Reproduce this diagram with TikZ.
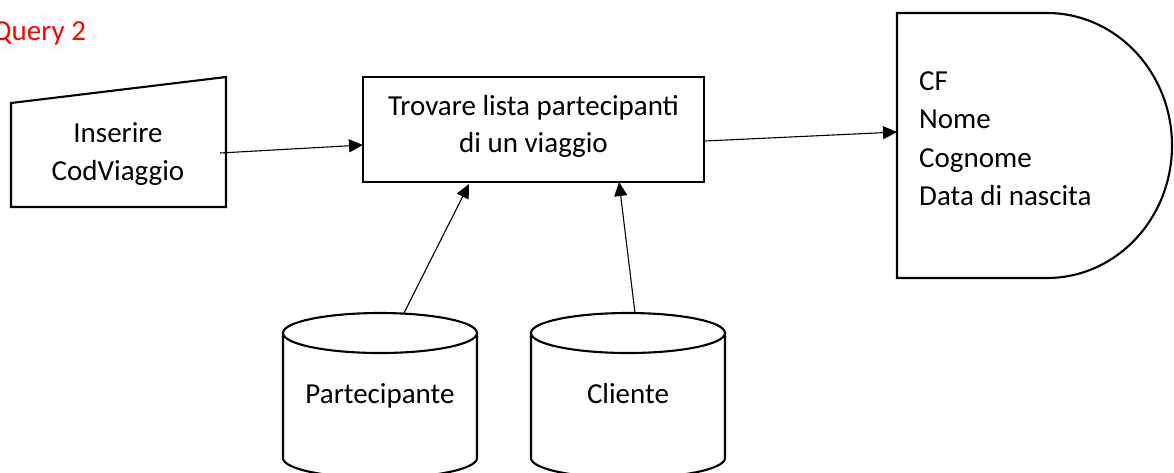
\documentclass[tikz,border=0pt]{standalone}
\usepackage{fontspec}
\setmainfont{Carlito}
\usetikzlibrary{arrows.meta}
\definecolor{qred}{RGB}{255,0,0}
\tikzset{
  shapeline/.style={draw=black, line width=2.1pt, fill=white, line join=miter},
  flow/.style={draw=black, line width=1.1pt, -{Triangle[length=14pt,width=13pt]}},
  txt/.style={font=\fontsize{29}{38}\selectfont, inner sep=0pt, anchor=base},
}
\begin{document}
\begin{tikzpicture}[x=1pt,y=-1pt]
\useasboundingbox (0,0) rectangle (1174,472);
\begin{scope}
\clip (0,0) rectangle (1174,472);
% title
\node[txt, anchor=base west, text=qred] (title) at (-8,40) {Query 2};
% manual input
\draw[shapeline] (11,103) -- (226,77) -- (226,207) -- (11,207) -- cycle;
\node[txt] (in1) at (118,142) {Inserire};
\node[txt] (in2) at (118,180) {CodViaggio};
% process
\draw[shapeline] (363,77) rectangle (704,182);
\node[txt] (p1) at (533.5,115) {Trovare lista partecipanti};
\node[txt] (p2) at (533.5,152) {di un viaggio};
% display
\draw[shapeline] (897,13) -- (1047,13) arc[start angle=90,end angle=-90,x radius=125pt,y radius=132.5pt] -- (897,278) -- cycle;
\node[txt, anchor=base west] (o1) at (919,90) {CF};
\node[txt, anchor=base west] (o2) at (919,128) {Nome};
\node[txt, anchor=base west] (o3) at (919,167) {Cognome};
\node[txt, anchor=base west] (o4) at (919,205) {Data di nascita};
% cylinders
\draw[shapeline] (283,333) -- (283,458) arc[start angle=180,end angle=360,x radius=97pt,y radius=20pt] -- (477,333);
\draw[shapeline] (380,333) ellipse[x radius=97pt,y radius=20pt];
\node[txt] (db1) at (380,403) {Partecipante};
\draw[shapeline] (531,333) -- (531,458) arc[start angle=180,end angle=360,x radius=97pt,y radius=20pt] -- (725,333);
\draw[shapeline] (628,333) ellipse[x radius=97pt,y radius=20pt];
\node[txt] (db2) at (628,403) {Cliente};
% connector endpoints
\coordinate (inOut) at (220,153);
\coordinate (procIn) at (363,145);
\coordinate (procOut) at (705,141);
\coordinate (dispIn) at (897,132);
\coordinate (db1Top) at (404,313);
\coordinate (procB1) at (469,184);
\coordinate (db2Top) at (635,313);
\coordinate (procB2) at (619,182);
\draw[flow] (inOut) -- (procIn);
\draw[flow] (procOut) -- (dispIn);
\draw[flow] (db1Top) -- (procB1);
\draw[flow] (db2Top) -- (procB2);
\end{scope}
\end{tikzpicture}
\end{document}
